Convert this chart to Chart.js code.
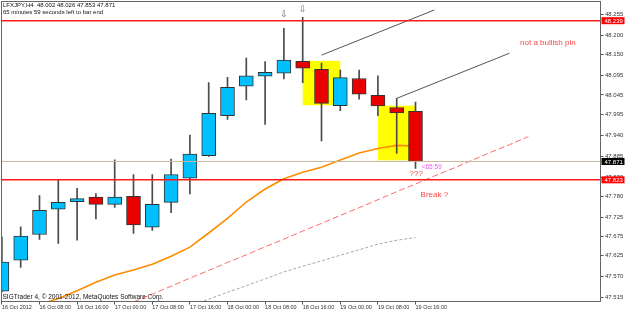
<!DOCTYPE html>
<html>
<head>
<meta charset="utf-8">
<script src="https://cdn.jsdelivr.net/npm/chart.js@4.4.1/dist/chart.umd.min.js"></script>
<style>
  html, body { margin: 0; padding: 0; background: #fff; }
  #wrap { width: 625px; height: 313px; }
</style>
</head>
<body>
<div id="wrap"><canvas id="chart" width="625" height="313"></canvas></div>
<script>
// LFXJPY H4, one bar every 4 hours from 16 Oct 00:00 to 19 Oct 16:00
const tickBars   = [0, 2, 4, 6, 8, 10, 12, 14, 16, 18, 20, 22];
const tickLabels = ['16 Oct 2012', '16 Oct 08:00', '16 Oct 16:00', '17 Oct 00:00', '17 Oct 08:00', '17 Oct 16:00',
                    '18 Oct 00:00', '18 Oct 08:00', '18 Oct 16:00', '19 Oct 00:00', '19 Oct 08:00', '19 Oct 16:00'];
const priceTicks = [48.255, 48.200, 48.150, 48.095, 48.045, 47.995, 47.940, 47.885, 47.830,
                    47.780, 47.725, 47.675, 47.625, 47.570, 47.515];

const opens  = [47.532, 47.613, 47.680, 47.746, 47.766, 47.778, 47.759, 47.780, 47.699, 47.764, 47.827, 47.886,
                47.991, 48.068, 48.094, 48.102, 48.133, 48.112, 48.017, 48.088, 48.044, 48.012, 48.002];
const highs  = [47.673, 47.700, 47.782, 47.822, 47.801, 47.787, 47.875, 47.837, 47.837, 47.877, 47.940, 48.077,
                48.091, 48.141, 48.132, 48.219, 48.248, 48.128, 48.110, 48.110, 48.095, 48.036, 48.026];
const lows   = [47.530, 47.594, 47.667, 47.657, 47.665, 47.721, 47.751, 47.683, 47.691, 47.737, 47.786, 47.884,
                47.981, 48.032, 47.968, 48.087, 48.077, 47.925, 48.004, 48.034, 47.991, 47.892, 47.853];
const closes = [47.608, 47.676, 47.743, 47.764, 47.774, 47.759, 47.778, 47.705, 47.759, 47.837, 47.890, 47.997,
                48.065, 48.095, 48.104, 48.136, 48.115, 48.023, 48.090, 48.047, 48.016, 47.998, 47.871];

// indicator lines, one value per bar (null = nothing drawn)
const maOrange = [null, null, 47.497, 47.513, 47.533, 47.555, 47.574, 47.587, 47.602, 47.623, 47.647, 47.684,
                  47.722, 47.765, 47.799, 47.826, 47.843, 47.856, 47.875, 47.893, 47.905, 47.913, 47.911];
const maRed    = [null, null, null, null, null, null, null, 47.504, 47.524, 47.545, 47.566, 47.586, 47.607,
                  47.627, 47.648, 47.668, 47.689, 47.709, 47.730, 47.750, 47.771, 47.792, 47.812, 47.833,
                  47.853, 47.874, 47.895, 47.915, 47.936];
const maGray   = [null, null, null, null, null, null, null, null, null, null, 47.492, 47.511, 47.529, 47.546,
                  47.564, 47.582, 47.597, 47.611, 47.626, 47.640, 47.655, 47.665, 47.672];

// drawn objects
const trend1Bars = [17, 23], trend1Prices = [48.149, 48.267];
const trend2Bars = [21, 27], trend2Prices = [48.036, 48.154];
const boxFrom = [16, 20], boxTo = [18, 22];
const boxHigh = [48.134, 48.017], boxLow = [48.018, 47.874];
const levels = [48.239, 47.823];
const bidPrice = 47.871;
const fractalBars = [15, 16], fractalPrices = [48.254, 48.268];
const noteTexts  = ['not a bullish pin', '???', 'Break ?', '<65:59'];
const noteBars   = [27.56, 21.68, 22.27, 22.33];
const notePrices = [48.180, 47.838, 47.783, 47.857];

const BULL = '#00bfff', BEAR = '#e80000', FONT = 'Liberation Sans, Arial, sans-serif';

const toPoints = arr => arr.map((v, i) => ({ x: i, y: v })).filter(p => p.y !== null);

const overlay = {
    id: 'overlay',
    beforeDatasetsDraw(chart) {
        const { ctx, chartArea: a, scales: { x, y } } = chart;
        ctx.save();
        ctx.beginPath();
        ctx.rect(a.left, a.top, a.right - a.left, a.bottom - a.top);
        ctx.clip();
        ctx.fillStyle = '#ffff00';
        boxFrom.forEach((b, k) => {
            const x0 = x.getPixelForValue(b), x1 = x.getPixelForValue(boxTo[k]);
            const y0 = y.getPixelForValue(boxHigh[k]), y1 = y.getPixelForValue(boxLow[k]);
            ctx.fillRect(x0, y0, x1 - x0, y1 - y0);
        });
        ctx.restore();
    },
    afterDatasetsDraw(chart) {
        const { ctx, chartArea: a, scales: { x, y } } = chart;
        ctx.save();
        // bid line
        ctx.strokeStyle = '#c4b99f';
        ctx.lineWidth = 1;
        const yb = y.getPixelForValue(bidPrice);
        ctx.beginPath(); ctx.moveTo(a.left, yb); ctx.lineTo(a.right, yb); ctx.stroke();
        // support / resistance
        ctx.strokeStyle = '#ff1a1a';
        ctx.lineWidth = 1.4;
        levels.forEach(p => {
            const yy = y.getPixelForValue(p);
            ctx.beginPath(); ctx.moveTo(a.left, yy); ctx.lineTo(a.right, yy); ctx.stroke();
        });
        // fractal arrows
        ctx.fillStyle = '#666';
        ctx.font = '9px DejaVu Sans';
        ctx.textAlign = 'center';
        ctx.textBaseline = 'middle';
        fractalBars.forEach((b, k) => ctx.fillText('\u21e9', x.getPixelForValue(b), y.getPixelForValue(fractalPrices[k])));
        // notes
        ctx.textAlign = 'left';
        noteTexts.forEach((t, k) => {
            const timer = t.startsWith('<');
            ctx.fillStyle = timer ? '#ee55ee' : '#ff4545';
            ctx.font = (timer ? '6.5px ' : '8px ') + FONT;
            ctx.fillText(t, x.getPixelForValue(noteBars[k]), y.getPixelForValue(notePrices[k]));
        });
        ctx.restore();
    },
    afterDraw(chart) {
        const { ctx, chartArea: a, scales: { y } } = chart;
        ctx.save();
        ctx.strokeStyle = '#666';
        ctx.lineWidth = 1;
        ctx.strokeRect(a.left, a.top, a.right - a.left, a.bottom - a.top);
        // price tags on the axis
        ctx.font = '6px ' + FONT;
        ctx.textBaseline = 'middle';
        ctx.textAlign = 'left';
        [[levels[0], '#ff0000'], [bidPrice, '#000000'], [levels[1], '#ff0000']].forEach(([p, c]) => {
            const yy = y.getPixelForValue(p);
            ctx.fillStyle = c;
            ctx.fillRect(a.right + 1, yy - 3.5, 23, 7);
            ctx.fillStyle = '#fff';
            ctx.fillText(p.toFixed(3), a.right + 4, yy + 0.5);
        });
        // header and copyright
        ctx.fillStyle = '#111';
        ctx.font = '6px ' + FONT;
        ctx.fillText('LFXJPY,H4  ' + [opens[22], highs[22], lows[22], closes[22]].map(v => v.toFixed(3)).join(' '), 3, 5.5);
        ctx.fillText('65 minutes 59 seconds left to bar end', 3, 12.5);
        ctx.font = '6.5px ' + FONT;
        ctx.fillText('SIGTrader 4, \u00a9 2001-2012, MetaQuotes Software Corp.', 2.5, 297);
        ctx.restore();
    }
};

const chart = new Chart(document.getElementById('chart'), {
    data: {
        datasets: [
            {
                type: 'bar', order: 2, grouped: false,
                data: opens.map((o, i) => ({ x: i, y: [o, closes[i]] })),
                backgroundColor: opens.map((o, i) => closes[i] >= o ? BULL : BEAR),
                borderColor: '#333', borderWidth: 1, borderSkipped: false, barThickness: 14,
            },
            {
                type: 'bar', order: 3, grouped: false,
                data: lows.map((l, i) => ({ x: i, y: [l, highs[i]] })),
                backgroundColor: '#4a4a4a', borderWidth: 0, barThickness: 1,
            },
            {
                type: 'line', order: 5, data: toPoints(maOrange),
                borderColor: '#ff8c00', borderWidth: 1.6, pointRadius: 0, tension: 0,
            },
            {
                type: 'line', order: 6, data: toPoints(maRed),
                borderColor: '#ff6a6a', borderWidth: 1, borderDash: [6, 3], pointRadius: 0, tension: 0,
            },
            {
                type: 'line', order: 7, data: toPoints(maGray),
                borderColor: '#a8a8a0', borderWidth: 1, borderDash: [3, 2], pointRadius: 0, tension: 0,
            },
            {
                type: 'line', order: 1, data: trend1Bars.map((b, k) => ({ x: b, y: trend1Prices[k] })),
                borderColor: '#555', borderWidth: 1, pointRadius: 0,
            },
            {
                type: 'line', order: 1, data: trend2Bars.map((b, k) => ({ x: b, y: trend2Prices[k] })),
                borderColor: '#555', borderWidth: 1, pointRadius: 0,
            },
        ],
    },
    options: {
        responsive: false,
        animation: false,
        events: [],
        layout: { padding: { left: 1.5, top: 1.5, right: 0, bottom: 0 } },
        plugins: { legend: { display: false }, tooltip: { enabled: false } },
        scales: {
            x: {
                type: 'linear', min: -0.0213, max: 31.84, offset: false,
                grid: { drawOnChartArea: false, tickLength: 3, color: '#555', offset: false },
                border: { display: false },
                ticks: {
                    align: 'start', padding: 0, maxRotation: 0, autoSkip: false,
                    color: '#333', font: { family: FONT, size: 5.5 },
                    callback: v => tickLabels[tickBars.indexOf(v)],
                },
                afterBuildTicks: s => { s.ticks = tickBars.map(v => ({ value: v })); },
                afterFit: s => { s.height = 11.5; s.paddingLeft = 0; s.paddingRight = 0; },
            },
            y: {
                type: 'linear', position: 'right', min: 47.5049, max: 48.2892,
                grid: { drawOnChartArea: false, tickLength: 3, color: '#555' },
                border: { display: false },
                ticks: {
                    padding: 1.5, color: '#333', font: { family: FONT, size: 6 },
                    callback: v => v.toFixed(3),
                },
                afterBuildTicks: s => { s.ticks = priceTicks.map(v => ({ value: v })); },
                afterFit: s => { s.width = 24.5; s.paddingTop = 0; s.paddingBottom = 0; },
            },
        },
    },
    plugins: [overlay],
});
</script>
</body>
</html>
